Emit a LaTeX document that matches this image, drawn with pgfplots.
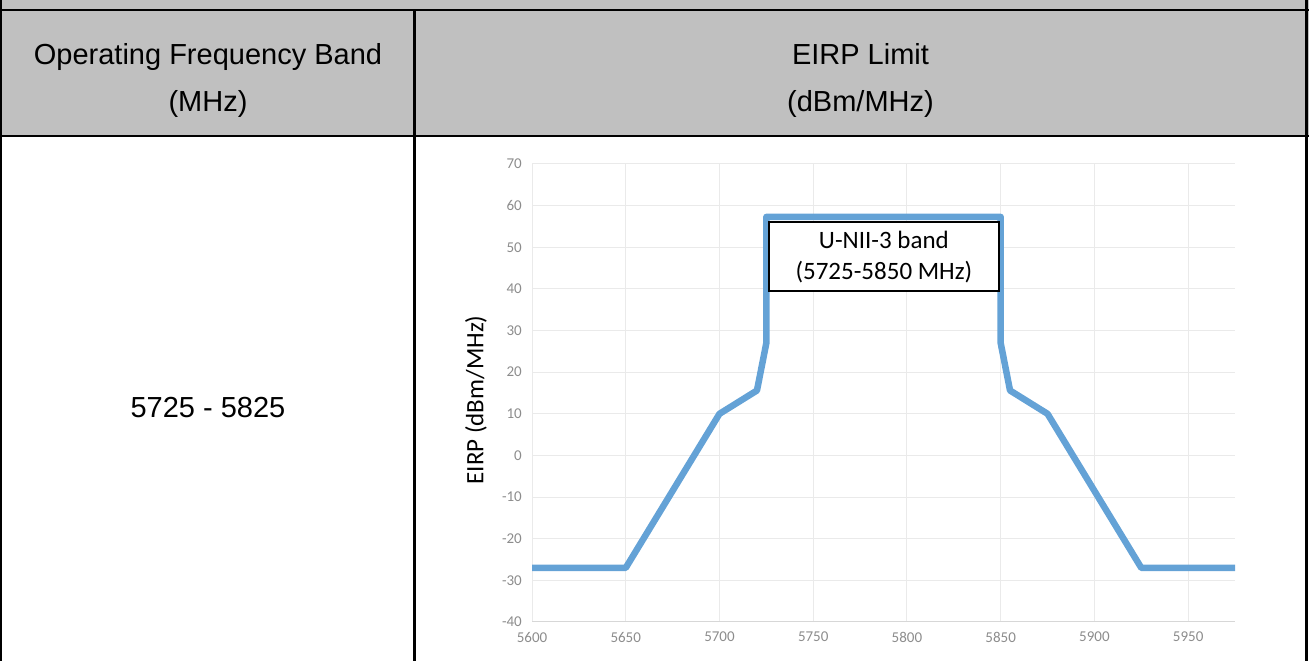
\documentclass[border=0pt]{standalone}
\usepackage{fontspec}
\setmainfont{Liberation Sans}
\newfontfamily\calibri{Carlito}
\usepackage{pgfplots}
\pgfplotsset{compat=1.18}
\definecolor{hdrgray}{RGB}{192,192,192}
\definecolor{eirpblue}{RGB}{100,162,214}
\definecolor{gridgray}{RGB}{234,234,234}
\definecolor{axisgray}{RGB}{215,215,215}
\definecolor{ticktext}{RGB}{140,140,140}
\begin{document}
\begin{tikzpicture}[x=1pt,y=1pt]
\useasboundingbox (0,0) rectangle (1309,661);
% table
\fill[hdrgray] (0,525) rectangle (1309,661);
\draw[line width=2pt] (0,650.7) -- (1309,650.7);
\draw[line width=2.3pt] (0,525) -- (1309,525);
\draw[line width=2pt] (1,0) -- (1,661);
\draw[line width=2.2pt] (414.5,0) -- (414.5,650.7);
\draw[line width=3pt] (1306.5,0) -- (1306.5,661);
\node[anchor=base, font=\fontsize{29}{29}\selectfont, inner sep=0pt] at (208,596) {Operating Frequency Band};
\node[anchor=base, font=\fontsize{29}{29}\selectfont, inner sep=0pt] at (208,549) {(MHz)};
\node[anchor=base, font=\fontsize{29}{29}\selectfont, inner sep=0pt] at (860.5,596) {EIRP Limit};
\node[anchor=base, font=\fontsize{29}{29}\selectfont, inner sep=0pt] at (860.5,549) {(dBm/MHz)};
\node[anchor=base, font=\fontsize{29}{29}\selectfont, inner sep=0pt] at (208,243) {5725 - 5825};
% chart
\node[rotate=90, font=\calibri\fontsize{25}{25}\selectfont, inner sep=0pt] at (476,261) {EIRP (dBm/MHz)};
\begin{axis}[
  at={(532pt,39pt)}, anchor=south west,
  scale only axis, width=703pt, height=458pt,
  xmin=5600, xmax=5975, ymin=-40, ymax=70,
  xtick={5600,5650,...,5950}, ytick={-40,-30,...,70},
  grid=major, grid style={draw=gridgray, line width=1pt},
  axis x line*=bottom, axis y line*=left,
  x axis line style={draw=axisgray, line width=1pt, -},
  y axis line style={draw=none, -},
  major tick length=0pt,
  tick label style={font=\calibri\fontsize{15}{15}\selectfont, text=ticktext},
  /pgf/number format/assume math mode=true,
  /pgf/number format/1000 sep={},
  xticklabel style={inner sep=0pt, yshift=-10pt},
  yticklabel style={inner sep=0pt, xshift=-10pt},
  clip=false,
]
\addplot[eirpblue, line width=6.5pt, line join=round] coordinates {
  (5600,-27) (5650,-27) (5700,10) (5720,15.6) (5725,27) (5725,57.3)
  (5850,57.3) (5850,27) (5855,15.6) (5875,10) (5925,-27) (5975,-27)
};
\draw[black, line width=2pt, fill=white] (axis cs:5726.3,39.5) rectangle (axis cs:5849.2,56.1);
\node[font=\calibri\fontsize{25}{31}\selectfont, align=center, inner sep=0pt] at (axis cs:5787.7,47.6) {U-NII-3 band\\(5725-5850 MHz)};
\end{axis}
\end{tikzpicture}
\end{document}
